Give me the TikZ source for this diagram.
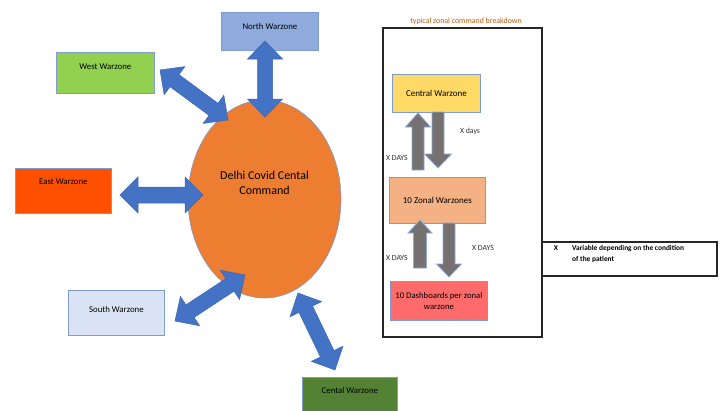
\documentclass[tikz,border=0pt]{standalone}
\usepackage{fontspec}
\setmainfont{Carlito}
\usetikzlibrary{calc,shapes.geometric}
\definecolor{northc}{HTML}{8FAADC}
\definecolor{westc}{HTML}{92D050}
\definecolor{eastc}{HTML}{FF5000}
\definecolor{southc}{HTML}{DAE3F3}
\definecolor{centc}{HTML}{548235}
\definecolor{hqc}{HTML}{ED7D31}
\definecolor{edgec}{HTML}{7F9BCF}
\definecolor{arrc}{HTML}{4472C4}
\definecolor{arrd}{HTML}{3B66B5}
\definecolor{grayc}{HTML}{767171}
\definecolor{yelc}{HTML}{FFD966}
\definecolor{zonc}{HTML}{F4B183}
\definecolor{dashc}{HTML}{FF6B6B}
\definecolor{titc}{HTML}{C55A11}
% double-headed block arrow: #1 style, #2 start, #3 end, #4 half shaft, #5 half head, #6 head length
\newcommand\blockdbl[6]{%
  \coordinate (qa) at ($(#2)!#6!(#3)$);
  \coordinate (qb) at ($(#3)!#6!(#2)$);
  \draw[#1] (#2) -- ($(qa)!#5!90:(#3)$) -- ($(qa)!#4!90:(#3)$) -- ($(qb)!#4!-90:(#2)$)
    -- ($(qb)!#5!-90:(#2)$) -- (#3) -- ($(qb)!#5!90:(#2)$) -- ($(qb)!#4!90:(#2)$)
    -- ($(qa)!#4!-90:(#3)$) -- ($(qa)!#5!-90:(#3)$) -- cycle;}
% single-headed block arrow, tip at #3
\newcommand\blocksgl[6]{%
  \coordinate (qb) at ($(#3)!#6!(#2)$);
  \draw[#1] ($(#2)!#4!90:(#3)$) -- ($(qb)!#4!-90:(#2)$) -- ($(qb)!#5!-90:(#2)$) -- (#3)
    -- ($(qb)!#5!90:(#2)$) -- ($(qb)!#4!90:(#2)$) -- ($(#2)!#4!-90:(#3)$) -- cycle;}
\begin{document}
\begin{tikzpicture}[x=1pt,y=-1pt,
  box/.style={draw=edgec, line width=0.8pt, inner sep=0pt, anchor=north west},
  lbl/.style={font=\fontsize{8.8}{10.5}\selectfont, inner sep=0pt},
  small/.style={font=\fontsize{7.8}{9.4}\selectfont, inner sep=0pt},
  bluearr/.style={fill=arrc, draw=arrd, line width=0.5pt, line join=miter},
  grayarr/.style={fill=grayc, draw=northc, line width=0.8pt, line join=miter},
  blackbox/.style={draw=black!85, line width=1.5pt, inner sep=0pt, anchor=north west}]
\clip (0,0) rectangle (720,410);
\fill[white] (0,0) rectangle (720,410);

% outer warzones
\node[box, fill=northc, minimum width=97pt, minimum height=38pt,
  label={[lbl,anchor=base,yshift=-17pt]north:North Warzone}] (north) at (221,12) {};
\node[box, fill=westc, minimum width=98pt, minimum height=41pt,
  label={[lbl,anchor=base,yshift=-17pt]north:West Warzone}] (west) at (56,52) {};
\node[box, fill=eastc, minimum width=96pt, minimum height=45pt,
  label={[lbl,anchor=base,yshift=-16pt]north:East Warzone}] (east) at (15,168) {};
\node[box, fill=southc, minimum width=96pt, minimum height=45pt,
  label={[lbl,anchor=base,yshift=-22pt]north:South Warzone}] (south) at (68,290) {};
\node[box, fill=centc, minimum width=95pt, minimum height=45pt,
  label={[lbl,anchor=base,yshift=-16pt]north:Cental Warzone}] (cental) at (302,377) {};

% central command
\node[ellipse, draw=edgec, line width=0.6pt, fill=hqc, minimum width=153pt, minimum height=198pt,
  label={[font=\fontsize{12}{15}\selectfont, align=center, inner sep=0pt, yshift=16pt]center:Delhi Covid Cental\\Command}] (hq) at (264.5,199) {};

% blue double arrows
\coordinate (nA) at (265,41);  \coordinate (nB) at (265,117);
\coordinate (wA) at (160,70);  \coordinate (wB) at (228,120);
\coordinate (eA) at (120,195); \coordinate (eB) at (203,195);
\coordinate (sA) at (175,321); \coordinate (sB) at (245,275);
\coordinate (cA) at (298,293); \coordinate (cB) at (335,370);
\blockdbl{bluearr}{nA}{nB}{7.5pt}{17.5pt}{18pt}
\blockdbl{bluearr}{wA}{wB}{7.5pt}{17.5pt}{18pt}
\blockdbl{bluearr}{eA}{eB}{8pt}{18pt}{18pt}
\blockdbl{bluearr}{sA}{sB}{7.5pt}{17.5pt}{18pt}
\blockdbl{bluearr}{cA}{cB}{7.5pt}{17.5pt}{18pt}

% right panel
\node[blackbox, minimum width=159pt, minimum height=309pt] (panel) at (382,27) {};
\node[font=\fontsize{7.9}{9.5}\selectfont, text=titc, inner sep=0pt] (title) at (466,21) {typical zonal command breakdown};

\node[box, fill=yelc, minimum width=88pt, minimum height=38pt, font=\fontsize{9}{11}\selectfont] (cw) at (392,74) {Central Warzone};
\node[box, fill=zonc, minimum width=96pt, minimum height=46pt, font=\fontsize{9}{11}\selectfont] (zw) at (389,177) {10 Zonal Warzones};
\node[box, fill=dashc, minimum width=97pt, minimum height=39pt, align=center, font=\fontsize{8.7}{11.5}\selectfont] (db) at (390,281) {10 Dashboards per zonal\\warzone};

% gray arrows
\coordinate (g1a) at (418,170); \coordinate (g1b) at (418,113);
\coordinate (g2a) at (438,112); \coordinate (g2b) at (438,168);
\coordinate (g3a) at (420,268); \coordinate (g3b) at (420,220);
\coordinate (g4a) at (449,223); \coordinate (g4b) at (449,277);
\blocksgl{grayarr}{g1a}{g1b}{6pt}{12.5pt}{14pt}
\blocksgl{grayarr}{g2a}{g2b}{6pt}{13.5pt}{14pt}
\blocksgl{grayarr}{g3a}{g3b}{6.5pt}{12pt}{13pt}
\blocksgl{grayarr}{g4a}{g4b}{6pt}{12.5pt}{13pt}

\node[small, text=black!80] (t1) at (470,131) {X days};
\node[small, text=black!80, anchor=east] (t2) at (408,158) {X DAYS};
\node[small, text=black!80] (t3) at (483,248) {X DAYS};
\node[small, text=black!80, anchor=east] (t4) at (408,258) {X DAYS};

% legend
\node[blackbox, minimum width=175pt, minimum height=34pt] (legend) at (541,241) {};
\node[inner sep=0pt, font=\fontsize{7.4}{9}\selectfont\bfseries] (lx) at (556,248) {X};
\node[inner sep=0pt, font=\fontsize{7.4}{9}\selectfont\bfseries, anchor=base west] (l1) at (572,250.5) {Variable depending on the condition};
\node[inner sep=0pt, font=\fontsize{7.4}{9}\selectfont\bfseries, anchor=base west] (l2) at (572,261.5) {of the patient};
\end{tikzpicture}
\end{document}
